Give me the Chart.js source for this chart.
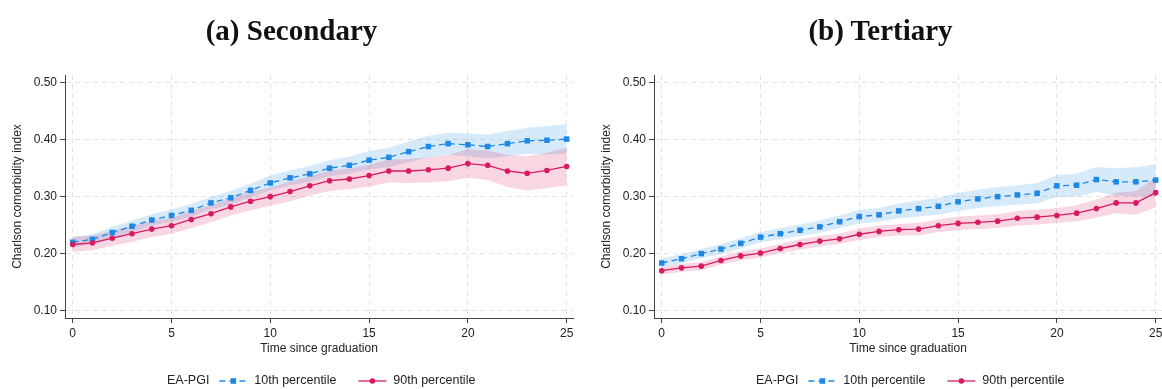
<!DOCTYPE html>
<html>
<head>
<meta charset="utf-8">
<script src="https://cdn.jsdelivr.net/npm/chart.js@4.4.1/dist/chart.umd.min.js"></script>
<style>
  html, body { margin: 0; padding: 0; background: #fff; overflow: hidden; width: 1162px; height: 389px; }
  .panel { position: absolute; top: 0; width: 589px; height: 389px; }
  .panel canvas { position: absolute; left: 0; top: 0; }
  .ptitle {
    position: absolute; top: 16px; width: 589px; left: -3px; text-align: center;
    font: bold 29px/29px "Liberation Serif", "DejaVu Serif", serif; color: #111;
  }
</style>
</head>
<body>
<div class="panel" style="left:0">
  <canvas id="chartSecondary" width="589" height="389"></canvas>
  <div class="ptitle">(a) Secondary</div>
</div>
<div class="panel" style="left:589px">
  <canvas id="chartTertiary" width="589" height="389"></canvas>
  <div class="ptitle">(b) Tertiary</div>
</div>
<script>
// x values: years since graduation
const years = [0,1,2,3,4,5,6,7,8,9,10,11,12,13,14,15,16,17,18,19,20,21,22,23,24,25];
const yTicks = [0.10, 0.20, 0.30, 0.40, 0.50];
const xTicks = [0, 5, 10, 15, 20, 25];
const legendTitle = 'EA-PGI';
const seriesNames = ['10th percentile', '90th percentile'];

// (a) Secondary
const secP10 = [0.220,0.225,0.237,0.248,0.259,0.267,0.276,0.289,0.298,0.311,0.324,0.333,0.340,0.350,0.355,0.364,0.369,0.379,0.388,0.393,0.391,0.388,0.393,0.398,0.399,0.401];
const secP10Lo = [0.211,0.216,0.227,0.238,0.249,0.256,0.265,0.278,0.286,0.299,0.311,0.320,0.326,0.336,0.340,0.348,0.352,0.361,0.369,0.374,0.371,0.367,0.371,0.375,0.374,0.375];
const secP10Hi = [0.229,0.234,0.247,0.258,0.269,0.278,0.287,0.300,0.310,0.323,0.337,0.346,0.354,0.364,0.370,0.380,0.386,0.397,0.407,0.412,0.411,0.409,0.415,0.421,0.424,0.427];
const secP90 = [0.216,0.219,0.227,0.235,0.243,0.249,0.260,0.270,0.282,0.292,0.300,0.309,0.319,0.328,0.331,0.337,0.345,0.345,0.347,0.350,0.358,0.355,0.345,0.341,0.346,0.353];
const secP90Lo = [0.203,0.206,0.214,0.221,0.229,0.235,0.245,0.255,0.267,0.276,0.284,0.292,0.302,0.310,0.313,0.318,0.325,0.324,0.325,0.327,0.333,0.329,0.317,0.311,0.315,0.320];
const secP90Hi = [0.229,0.232,0.240,0.249,0.257,0.263,0.275,0.285,0.297,0.308,0.316,0.326,0.336,0.346,0.349,0.356,0.365,0.366,0.369,0.373,0.383,0.381,0.373,0.371,0.377,0.386];

// (b) Tertiary
const terP10 = [0.1835,0.191,0.200,0.208,0.218,0.229,0.235,0.241,0.247,0.256,0.265,0.268,0.275,0.279,0.283,0.291,0.296,0.300,0.303,0.306,0.319,0.320,0.330,0.326,0.326,0.329];
const terP10Lo = [0.176,0.183,0.192,0.199,0.209,0.220,0.225,0.231,0.236,0.245,0.253,0.256,0.262,0.265,0.268,0.275,0.280,0.283,0.286,0.288,0.300,0.300,0.308,0.302,0.300,0.301];
const terP10Hi = [0.192,0.199,0.208,0.217,0.227,0.238,0.245,0.251,0.258,0.267,0.277,0.280,0.288,0.293,0.298,0.307,0.312,0.317,0.320,0.324,0.338,0.340,0.352,0.350,0.352,0.357];
const terP90 = [0.170,0.175,0.178,0.188,0.196,0.201,0.209,0.216,0.222,0.226,0.234,0.239,0.242,0.243,0.249,0.253,0.255,0.257,0.262,0.264,0.267,0.271,0.279,0.289,0.289,0.307];
const terP90Lo = [0.164,0.168,0.171,0.181,0.188,0.193,0.201,0.207,0.213,0.217,0.224,0.229,0.232,0.232,0.238,0.241,0.243,0.245,0.249,0.251,0.254,0.257,0.263,0.271,0.268,0.281];
const terP90Hi = [0.176,0.182,0.185,0.195,0.204,0.209,0.217,0.225,0.231,0.235,0.244,0.249,0.252,0.254,0.260,0.265,0.267,0.269,0.275,0.277,0.280,0.285,0.295,0.307,0.310,0.333];

const BLUE = '#1e88e5';
const RED = '#d81b60';
const BLUE_BAND = 'rgba(30,136,229,0.18)';
const RED_BAND = 'rgba(216,27,96,0.18)';
const FONT = '"Liberation Sans", Arial, Helvetica, sans-serif';

function pts(ys) {
    return years.map((x, i) => ({ x: x, y: ys[i] }));
}

// legend drawn Stata-style under the plot: "EA-PGI  -■-  10th percentile  -●-  90th percentile"
const stataLegend = {
    id: 'stataLegend',
    afterDraw(chart) {
        const ctx = chart.ctx;
        const y = 381;
        ctx.save();
        ctx.font = '12.5px ' + FONT;
        ctx.textBaseline = 'middle';
        ctx.fillStyle = '#222';
        let x = 167;
        ctx.fillText(legendTitle, x, y);
        x += ctx.measureText(legendTitle).width + 10;
        seriesNames.forEach(function(name, i) {
            const col = i === 0 ? BLUE : RED;
            ctx.strokeStyle = col;
            ctx.fillStyle = col;
            ctx.lineWidth = 1.3;
            ctx.setLineDash(i === 0 ? [6, 4] : []);
            ctx.beginPath();
            ctx.moveTo(x, y);
            ctx.lineTo(x + 28, y);
            ctx.stroke();
            ctx.setLineDash([]);
            if (i === 0) {
                ctx.fillRect(x + 14 - 2.8, y - 2.8, 5.6, 5.6);
            } else {
                ctx.beginPath();
                ctx.arc(x + 14, y, 2.8, 0, Math.PI * 2);
                ctx.fill();
            }
            x += 28 + 7;
            ctx.fillStyle = '#222';
            ctx.fillText(name, x, y);
            x += ctx.measureText(name).width + 22;
        });
        ctx.restore();
    }
};

function makePanel(id, p10, p10Lo, p10Hi, p90, p90Lo, p90Hi) {
    const ctx = document.getElementById(id);
    return new Chart(ctx, {
        type: 'line',
        data: {
            datasets: [
                { data: pts(p10Lo), borderWidth: 0, pointRadius: 0, fill: false, order: 3 },
                { data: pts(p10Hi), borderWidth: 0, pointRadius: 0, fill: '-1', backgroundColor: BLUE_BAND, order: 3 },
                { data: pts(p90Lo), borderWidth: 0, pointRadius: 0, fill: false, order: 2 },
                { data: pts(p90Hi), borderWidth: 0, pointRadius: 0, fill: '-1', backgroundColor: RED_BAND, order: 2 },
                {
                    label: seriesNames[0], data: pts(p10), borderColor: BLUE, backgroundColor: BLUE,
                    borderWidth: 1.3, borderDash: [6, 4], pointStyle: 'rect', pointRadius: 3.9,
                    pointBorderWidth: 0, fill: false, order: 1
                },
                {
                    label: seriesNames[1], data: pts(p90), borderColor: RED, backgroundColor: RED,
                    borderWidth: 1.3, pointStyle: 'circle', pointRadius: 2.8,
                    pointBorderWidth: 0, fill: false, order: 0
                }
            ]
        },
        options: {
            responsive: false,
            animation: false,
            layout: { padding: { top: 75, left: 0, right: 16, bottom: 0 } },
            plugins: {
                legend: { display: false },
                tooltip: { enabled: false },
                title: { display: false }
            },
            scales: {
                x: {
                    type: 'linear',
                    min: -0.39,
                    max: 25.32,
                    afterBuildTicks: function(s) { s.ticks = xTicks.map(v => ({ value: v })); },
                    afterFit: function(s) { s.height = 71; s.paddingLeft = 0; s.paddingRight = 0; },
                    ticks: { color: '#222', padding: 3, font: { family: FONT, size: 12 }, maxRotation: 0 },
                    grid: { color: '#e4e4e4', lineWidth: 1, tickLength: 5, tickColor: '#444', tickWidth: 1 },
                    border: { display: true, color: '#444', width: 1, dash: [5, 4] },
                    title: {
                        display: true, text: 'Time since graduation', color: '#222',
                        font: { family: FONT, size: 12 }, padding: { top: 0, bottom: 33 }
                    }
                },
                y: {
                    min: 0.087,
                    max: 0.5135,
                    afterBuildTicks: function(s) { s.ticks = yTicks.map(v => ({ value: v })); },
                    afterFit: function(s) { s.width = 65; },
                    ticks: {
                        color: '#222', padding: 3, font: { family: FONT, size: 12 },
                        callback: function(v) { return v.toFixed(2); }
                    },
                    grid: { color: '#e4e4e4', lineWidth: 1, tickLength: 5, tickColor: '#444', tickWidth: 1 },
                    border: { display: true, color: '#444', width: 1, dash: [5, 4] },
                    title: {
                        display: true, text: 'Charlson comorbidity index', color: '#222',
                        font: { family: FONT, size: 12 }, padding: { top: 10, bottom: 0 }
                    }
                }
            }
        },
        plugins: [stataLegend]
    });
}

makePanel('chartSecondary', secP10, secP10Lo, secP10Hi, secP90, secP90Lo, secP90Hi);
makePanel('chartTertiary', terP10, terP10Lo, terP10Hi, terP90, terP90Lo, terP90Hi);
</script>
</body>
</html>
